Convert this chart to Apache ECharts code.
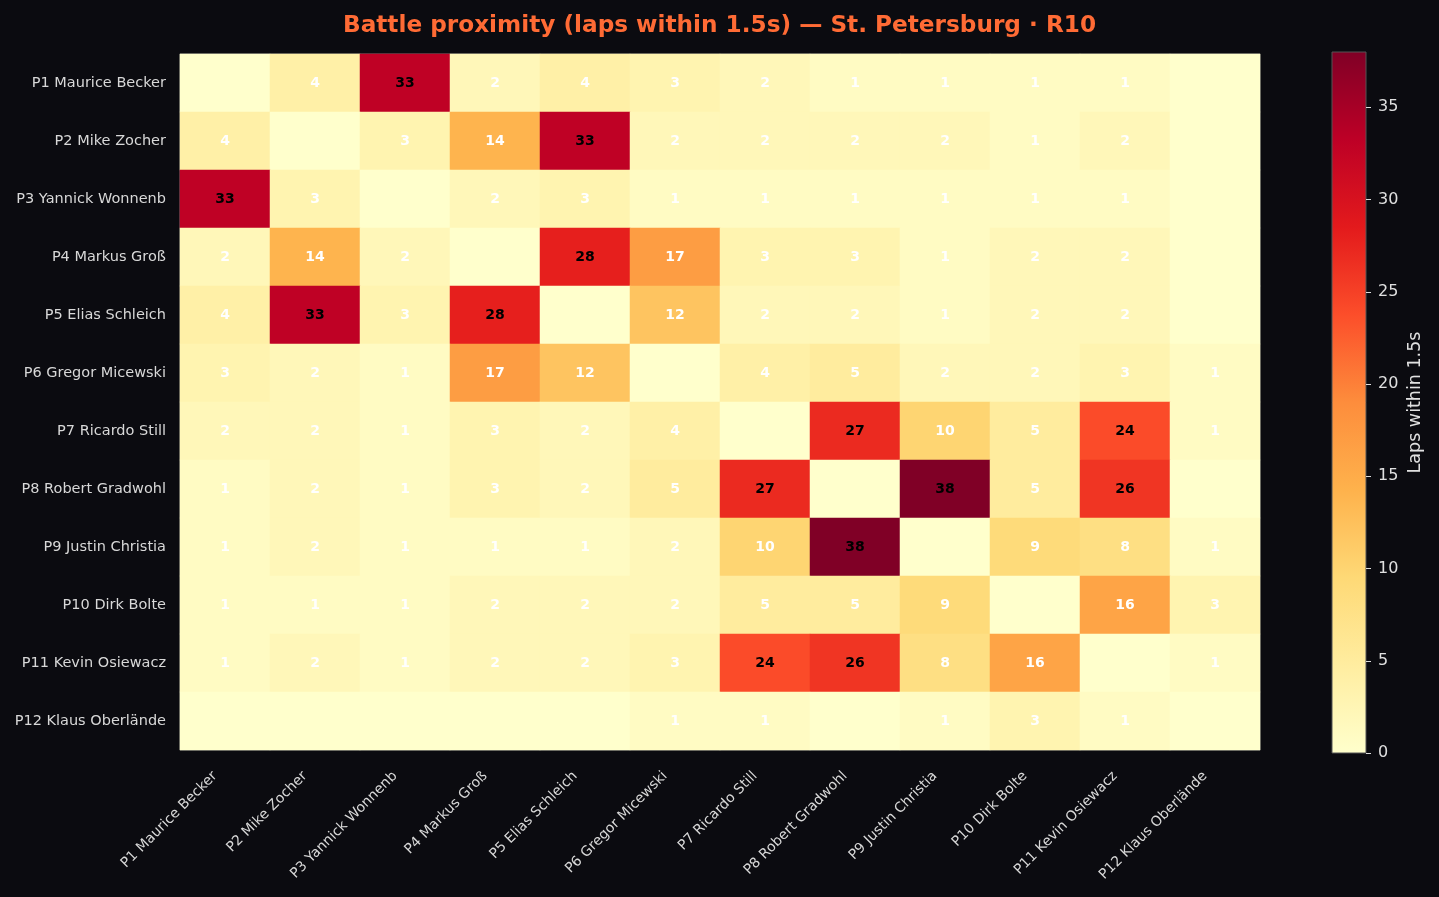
<!DOCTYPE html>
<html>
<head>
<meta charset="utf-8">
<script src="https://cdn.jsdelivr.net/npm/echarts@6/dist/echarts.min.js"></script>
<style>
  html, body { margin: 0; padding: 0; background: #0b0b10; }
  #chart { width: 1439px; height: 897px; }
</style>
</head>
<body>
<div id="chart"></div>
<script>
// 车手（行列相同）
const drivers = [
    'P1 Maurice Becker', 'P2 Mike Zocher', 'P3 Yannick Wonnenb', 'P4 Markus Groß',
    'P5 Elias Schleich', 'P6 Gregor Micewski', 'P7 Ricardo Still', 'P8 Robert Gradwohl',
    'P9 Justin Christia', 'P10 Dirk Bolte', 'P11 Kevin Osiewacz', 'P12 Klaus Oberlände'
];

// 1.5 秒内的圈数矩阵（对角线为 0）
const lapsMatrix = [
    [0, 4, 33, 2, 4, 3, 2, 1, 1, 1, 1, 0],
    [4, 0, 3, 14, 33, 2, 2, 2, 2, 1, 2, 0],
    [33, 3, 0, 2, 3, 1, 1, 1, 1, 1, 1, 0],
    [2, 14, 2, 0, 28, 17, 3, 3, 1, 2, 2, 0],
    [4, 33, 3, 28, 0, 12, 2, 2, 1, 2, 2, 0],
    [3, 2, 1, 17, 12, 0, 4, 5, 2, 2, 3, 1],
    [2, 2, 1, 3, 2, 4, 0, 27, 10, 5, 24, 1],
    [1, 2, 1, 3, 2, 5, 27, 0, 38, 5, 26, 0],
    [1, 2, 1, 1, 1, 2, 10, 38, 0, 9, 8, 1],
    [1, 1, 1, 2, 2, 2, 5, 5, 9, 0, 16, 3],
    [1, 2, 1, 2, 2, 3, 24, 26, 8, 16, 0, 1],
    [0, 0, 0, 0, 0, 1, 1, 0, 1, 3, 1, 0]
];

const colorMax = 38;
const colorTicks = [0, 5, 10, 15, 20, 25, 30, 35];

// YlOrRd 色带
const ylOrRd = ['#ffffcc', '#ffeda0', '#fed976', '#feb24c', '#fd8d3c', '#fc4e2a', '#e31a1c', '#bd0026', '#800026'];

// 热力图数据 [x, y, value]
const heatData = [];
lapsMatrix.forEach((row, i) => {
    row.forEach((v, j) => heatData.push([j, i, v]));
});

const chart = echarts.init(document.getElementById('chart'));

// 格子取整数像素，避免相邻色块之间出现细缝
const plot = { left: 180, top: 54, width: 1080, height: 696 };
const bar = { left: 1332, top: 52, width: 34, height: 701 };

const option = {
    backgroundColor: '#0b0b10',
    textStyle: { fontFamily: 'DejaVu Sans' },
    title: {
        text: 'Battle proximity (laps within 1.5s) — St. Petersburg · R10',
        left: 'center',
        top: 9,
        textStyle: { color: '#ff6b35', fontSize: 23.2, fontWeight: 'bold', fontFamily: 'DejaVu Sans' }
    },
    grid: [
        { left: plot.left, top: plot.top, width: plot.width, height: plot.height,
          show: true, borderColor: '#777', borderWidth: 1, backgroundColor: 'transparent' },
        { left: bar.left, top: bar.top, width: bar.width, height: bar.height }
    ],
    xAxis: [
        {
            type: 'category', gridIndex: 0, data: drivers,
            axisLine: { show: false },
            axisTick: { alignWithLabel: true, length: 5, lineStyle: { color: '#ccc' } },
            // 右侧留白让旋转标签像 matplotlib 那样落在刻度左下方
            axisLabel: { rotate: 45, color: '#d8d8d8', fontSize: 14, margin: 14, interval: 0,
                padding: [0, 14, 0, 0], fontFamily: 'DejaVu Sans' },
            splitLine: { show: false }
        },
        { type: 'category', gridIndex: 1, data: [''], show: false }
    ],
    yAxis: [
        {
            type: 'category', gridIndex: 0, data: drivers, inverse: true,
            axisLine: { show: false },
            axisTick: { alignWithLabel: true, length: 5, lineStyle: { color: '#ccc' } },
            axisLabel: { color: '#d8d8d8', fontSize: 14.5, margin: 14, interval: 0, fontFamily: 'DejaVu Sans' },
            splitLine: { show: false }
        },
        {
            type: 'value', gridIndex: 1, position: 'right', min: 0, max: colorMax,
            axisLine: { show: false },
            axisTick: { show: true, length: 5, lineStyle: { color: '#ddd' }, customValues: colorTicks },
            axisLabel: { color: '#e0e0e0', fontSize: 16, margin: 12, customValues: colorTicks, fontFamily: 'DejaVu Sans' },
            splitLine: { show: false },
            name: 'Laps within 1.5s', nameLocation: 'middle', nameRotate: 90, nameGap: 40,
            nameTextStyle: { color: '#e0e0e0', fontSize: 17.5, fontFamily: 'DejaVu Sans' }
        }
    ],
    visualMap: {
        show: false, min: 0, max: colorMax, seriesIndex: 0, dimension: 2,
        inRange: { color: ylOrRd }
    },
    graphic: [
        {
            type: 'rect',
            shape: { x: bar.left, y: bar.top, width: bar.width, height: bar.height },
            style: {
                fill: new echarts.graphic.LinearGradient(0, 1, 0, 0,
                    ylOrRd.map((c, i) => ({ offset: i / (ylOrRd.length - 1), color: c }))),
                stroke: '#555', lineWidth: 1
            },
            z: 0
        }
    ],
    series: [
        {
            type: 'heatmap', xAxisIndex: 0, yAxisIndex: 0, data: heatData,
            label: {
                show: true,
                fontFamily: 'DejaVu Sans',
                formatter: p => {
                    const v = p.value[2];
                    if (!v) return '';
                    return v > colorMax / 2 ? '{d|' + v + '}' : '{w|' + v + '}';
                },
                rich: {
                    d: { color: '#000', fontWeight: 'bold', fontSize: 14, fontFamily: 'DejaVu Sans' },
                    w: { color: '#fff', fontWeight: 'bold', fontSize: 14, fontFamily: 'DejaVu Sans' }
                }
            },
            itemStyle: { borderWidth: 0 },
            emphasis: { disabled: true }
        },
        { type: 'line', xAxisIndex: 1, yAxisIndex: 1, data: [], silent: true }
    ]
};

chart.setOption(option);
window.addEventListener('resize', () => chart.resize());
</script>
</body>
</html>
